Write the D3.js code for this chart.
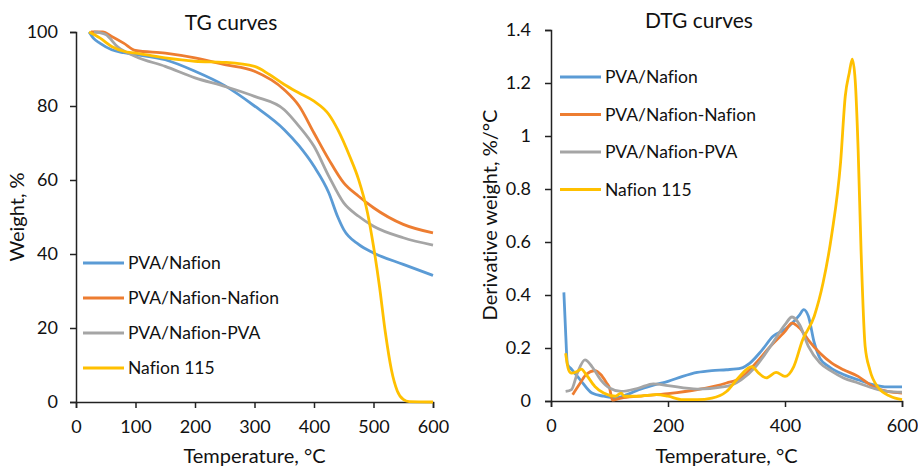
<!DOCTYPE html>
<html>
<head>
<meta charset="utf-8">
<script src="https://cdn.jsdelivr.net/npm/d3@7"></script>
<style>
  body { margin: 0; background: #fff; }
  svg { display: block; font-family: Lato, "Open Sans", sans-serif; font-variant-ligatures: none; }
</style>
</head>
<body>
<svg id="chart" width="918" height="469"></svg>
<script>
// TG and DTG curves

const seriesNames = ['PVA/Nafion', 'PVA/Nafion-Nafion', 'PVA/Nafion-PVA', 'Nafion 115'];
const seriesColors = ['#5B9BD5', '#ED7D31', '#A5A5A5', '#FFC000'];

// TG: [temperature °C, weight %]
const tgPvaNafion = [[22,100],[30,98.2],[40,97],[60,95.2],[80,94.4],[100,93.9],[150,92.5],[200,89.4],[250,85.5],[300,80],[350,73.6],[375,69.2],[400,63.7],[425,56.5],[440,50],[450,46.6],[475,42.6],[500,40.3],[550,37.2],[600,34.2]];
const tgNafionSide = [[25,100],[45,100],[60,98.8],[80,97],[100,95],[150,94.3],[200,93],[250,91.2],[300,89.4],[350,84.4],[375,80],[400,72.7],[425,65.5],[450,59.2],[475,55.6],[500,52.5],[550,48],[600,45.7]];
const tgPvaSide = [[30,100],[40,99.8],[50,99.3],[70,96],[100,93.4],[150,90.7],[200,87.6],[250,85.3],[300,82.6],[350,79],[375,74.5],[400,69.1],[425,61],[450,53.8],[475,50.2],[500,47.5],[550,44.4],[600,42.4]];
const tgNafion115 = [[22,100],[40,98.4],[60,96.1],[80,94.8],[100,94.3],[150,93],[200,92.1],[250,91.8],[300,90.7],[325,88.5],[350,85.8],[375,83.5],[400,81.3],[425,77.7],[440,73.6],[460,66.4],[475,60.1],[490,51.1],[500,42.1],[510,31.3],[520,18.7],[530,8.8],[540,3],[550,0.7],[560,0.1],[600,0]];

// DTG: [temperature °C, derivative weight %/°C]
const dtgPvaNafion = [[22,0.41],[25,0.26],[28,0.14],[35,0.12],[50,0.08],[70,0.03],[90,0.018],[110,0.012],[130,0.024],[150,0.043],[175,0.06],[200,0.074],[225,0.093],[250,0.108],[275,0.115],[300,0.118],[325,0.124],[340,0.143],[360,0.19],[380,0.245],[400,0.27],[415,0.3],[425,0.325],[432,0.345],[440,0.32],[450,0.22],[460,0.16],[475,0.13],[500,0.1],[525,0.08],[550,0.062],[575,0.053],[600,0.053]];
const dtgNafionSide = [[37,0.024],[50,0.068],[60,0.1],[75,0.115],[85,0.1],[95,0.068],[100,0.05],[105,0.003],[120,0.011],[150,0.018],[200,0.028],[250,0.043],[300,0.068],[325,0.087],[350,0.143],[375,0.206],[400,0.263],[412,0.294],[425,0.275],[440,0.23],[460,0.18],[480,0.143],[500,0.118],[525,0.093],[550,0.055],[575,0.036],[600,0.03]];
const dtgPvaSide = [[25,0.036],[35,0.043],[45,0.105],[58,0.155],[70,0.13],[85,0.08],[100,0.049],[120,0.036],[150,0.049],[175,0.065],[200,0.058],[250,0.045],[300,0.055],[325,0.08],[350,0.13],[375,0.206],[400,0.288],[412,0.317],[425,0.288],[440,0.206],[460,0.143],[480,0.112],[500,0.087],[525,0.068],[550,0.049],[575,0.036],[600,0.033]];
const dtgNafion115 = [[25,0.18],[30,0.118],[35,0.105],[45,0.112],[52,0.12],[60,0.1],[75,0.055],[90,0.03],[110,0.018],[120,0.03],[125,0.018],[150,0.018],[180,0.024],[200,0.018],[225,0.005],[250,0.005],[275,0.011],[300,0.036],[320,0.087],[343,0.13],[355,0.105],[368,0.087],[385,0.108],[400,0.093],[415,0.13],[430,0.23],[450,0.32],[465,0.445],[480,0.63],[495,0.9],[503,1.15],[510,1.24],[515,1.29],[520,1.21],[525,0.95],[530,0.57],[537,0.206],[545,0.118],[560,0.049],[580,0.018],[600,0.005]];

const tgSeries = [tgPvaNafion, tgNafionSide, tgPvaSide, tgNafion115];
const dtgSeries = [dtgPvaNafion, dtgNafionSide, dtgPvaSide, dtgNafion115];

const tgYTicks = [0, 20, 40, 60, 80, 100];
const tgXTicks = [0, 100, 200, 300, 400, 500, 600];
const dtgYTicks = [0, 0.2, 0.4, 0.6, 0.8, 1, 1.2, 1.4];
const dtgXTicks = [0, 200, 400, 600];

const svg = d3.select('#chart');

function drawPanel(opts) {
    const x = d3.scaleLinear().domain([0, 600]).range([opts.left, opts.right]);
    const y = d3.scaleLinear().domain(opts.yDomain).range([opts.bottom, opts.top]);
    const g = svg.append('g');

    // axes
    const xAxis = g.append('g')
        .attr('transform', `translate(0,${opts.bottom})`)
        .call(d3.axisBottom(x).tickValues(opts.xTicks).tickSize(6).tickPadding(12).tickFormat(d3.format('d')));
    const yAxis = g.append('g')
        .attr('transform', `translate(${opts.left},0)`)
        .call(d3.axisLeft(y).tickValues(opts.yTicks).tickSize(6).tickPadding(opts.yPad).tickFormat(opts.yFormat));
    [xAxis, yAxis].forEach(a => {
        a.select('.domain').attr('stroke', '#222').attr('stroke-width', 1.5);
        a.selectAll('.tick line').attr('stroke', '#222').attr('stroke-width', 1.5);
        a.selectAll('.tick text').attr('font-size', 18).attr('fill', '#111')
            .attr('font-family', 'Lato, sans-serif');
    });

    // curves
    const line = d3.line()
        .x(d => x(d[0]))
        .y(d => y(d[1]))
        .curve(d3.curveMonotoneX);
    opts.series.forEach((s, i) => {
        g.append('path')
            .datum(s)
            .attr('d', line)
            .attr('fill', 'none')
            .attr('stroke', seriesColors[i])
            .attr('stroke-width', 2.8)
            .attr('stroke-linejoin', 'round');
    });

    // title
    g.append('text')
        .attr('x', opts.titleX).attr('y', opts.titleY)
        .attr('text-anchor', 'middle')
        .attr('font-size', 21).attr('fill', '#111')
        .text(opts.title);

    // axis titles
    g.append('text')
        .attr('x', (opts.left + opts.right) / 2).attr('y', 463)
        .attr('text-anchor', 'middle')
        .attr('font-size', 20).attr('fill', '#111')
        .text('Temperature, °C');
    g.append('text')
        .attr('transform', `translate(${opts.yTitleX},${opts.yTitleY}) rotate(-90)`)
        .attr('text-anchor', 'middle')
        .attr('font-size', 20).attr('fill', '#111')
        .text(opts.yTitle);

    // legend
    const leg = g.append('g');
    seriesNames.forEach((name, i) => {
        const ly = opts.legendY + i * opts.legendStep;
        leg.append('line')
            .attr('x1', opts.legendX).attr('x2', opts.legendX + 41)
            .attr('y1', ly).attr('y2', ly)
            .attr('stroke', seriesColors[i]).attr('stroke-width', 2.8);
        leg.append('text')
            .attr('x', opts.legendX + 45).attr('y', ly)
            .attr('dy', '0.35em')
            .attr('font-size', 17.5).attr('fill', '#111')
            .text(name);
    });
}

drawPanel({
    left: 76, right: 433, top: 32, bottom: 402,
    yDomain: [0, 100], xTicks: tgXTicks, yTicks: tgYTicks,
    yFormat: d3.format('d'), series: tgSeries, yPad: 12,
    title: 'TG curves', titleX: 231, titleY: 30,
    yTitle: 'Weight, %', yTitleX: 24, yTitleY: 217,
    legendX: 83, legendY: 263, legendStep: 35
});

drawPanel({
    left: 551, right: 902, top: 30, bottom: 401,
    yDomain: [0, 1.4], xTicks: dtgXTicks, yTicks: dtgYTicks,
    yFormat: d => d3.format('.1f')(d).replace(/\.0$/, ''), series: dtgSeries, yPad: 14,
    title: 'DTG curves', titleX: 699, titleY: 28,
    yTitle: 'Derivative weight, %/°C', yTitleX: 497, yTitleY: 215,
    legendX: 560, legendY: 77, legendStep: 37.5
});
</script>
</body>
</html>
